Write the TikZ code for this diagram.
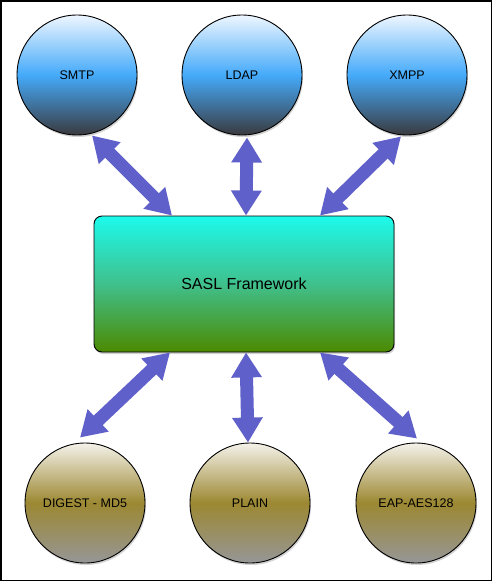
\documentclass[tikz,border=0pt]{standalone}
\usepackage{fontspec}
\setmainfont{Liberation Sans}
\usetikzlibrary{arrows.meta,calc,shadows}
\definecolor{arrowc}{RGB}{96,96,202}
\definecolor{topw}{RGB}{238,246,255}
\definecolor{topm}{RGB}{68,170,250}
\definecolor{topb}{RGB}{58,58,62}
\definecolor{botw}{RGB}{244,242,234}
\definecolor{botm}{RGB}{156,136,50}
\definecolor{botb}{RGB}{150,150,150}
\definecolor{boxt}{RGB}{28,250,236}
\definecolor{boxm}{RGB}{64,192,140}
\definecolor{boxb}{RGB}{76,138,0}
\tikzset{
  x=1pt,y=1pt,
  shad/.style={drop shadow={shadow xshift=1pt,shadow yshift=-2pt,opacity=0.35}},
  topc/.style={circle,draw=black,line width=0.9pt,minimum size=120pt,inner sep=0pt,
    top color=topw,bottom color=topb,middle color=topm,shad,font=\fontsize{12.5}{14}\selectfont},
  botc/.style={circle,draw=black,line width=0.9pt,minimum size=120pt,inner sep=0pt,
    top color=botw,bottom color=botb,middle color=botm,shad,font=\fontsize{12.5}{14}\selectfont},
  fbox/.style={rectangle,rounded corners=8pt,draw=black,line width=0.9pt,minimum width=300pt,
    minimum height=136pt,top color=boxt,bottom color=boxb,middle color=boxm,shad,
    font=\fontsize{16}{19}\selectfont},
  biarrow/.style={draw=arrowc,line width=13pt,
    {Triangle[width=29pt,length=25pt,fill=arrowc]}-{Triangle[width=29pt,length=25pt,fill=arrowc]}},
}
\begin{document}
\begin{tikzpicture}
\useasboundingbox (0,0) rectangle (492,-581);
\fill[white] (0,0) rectangle (492,-581);
\draw[black,line width=1.5pt] (0.75,-0.75) rectangle (491.25,-580.25);

\node[topc] (smtp) at (77,-75) {SMTP};
\node[topc] (ldap) at (242,-75) {LDAP};
\node[topc] (xmpp) at (407,-75) {XMPP};
\node[fbox] (sasl) at (244,-284) {SASL Framework};
\node[botc] (digest) at (85,-503) {DIGEST - MD5};
\node[botc] (plain) at (250,-503) {PLAIN};
\node[botc] (eap) at (416,-503) {EAP-AES128};

\draw[biarrow] ($(smtp.south)+(15,0)$) -- ($(sasl.north)+(-72,0)$);
\draw[biarrow] ($(ldap.south)+(5,-2)$) -- ($(sasl.north)+(2,0)$);
\draw[biarrow] ($(xmpp.south)+(-6,-1)$) -- ($(sasl.north)+(76,0)$);
\draw[biarrow] ($(sasl.south)+(-74,0)$) -- ($(digest.north)+(-5,5)$);
\draw[biarrow] ($(sasl.south)+(2,0)$) -- ($(plain.north)+(-2,0)$);
\draw[biarrow] ($(sasl.south)+(76,0)$) -- ($(eap.north)+(1,4)$);
\end{tikzpicture}
\end{document}
